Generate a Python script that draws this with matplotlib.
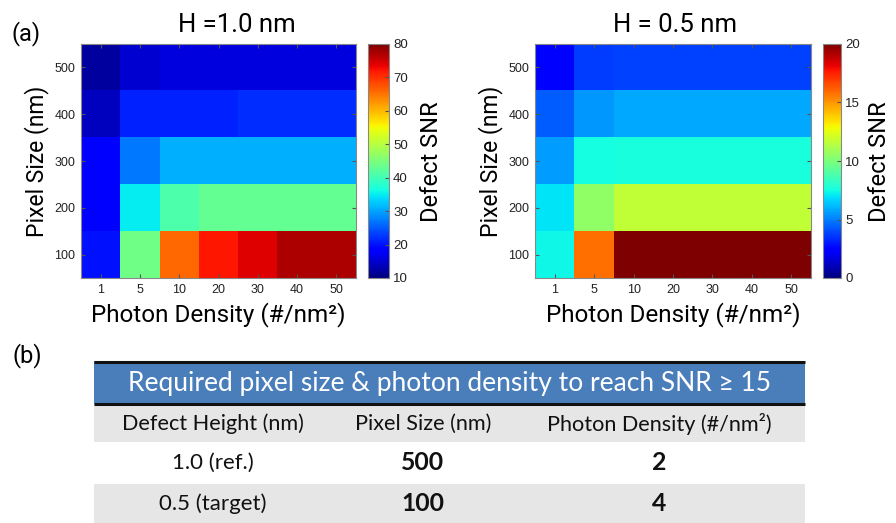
import matplotlib
matplotlib.use("Agg")
import matplotlib.pyplot as plt
from matplotlib.patches import Rectangle
import numpy as np

# Heatmap axes categories
photon_density = ["1", "5", "10", "20", "30", "40", "50"]
pixel_size = ["100", "200", "300", "400", "500"]

# Defect SNR, rows = pixel size 100..500, cols = photon density
snr_h10 = np.array([
    [20, 44, 66, 72, 74, 77, 77],
    [19, 35, 41, 43, 43, 43, 43],
    [18, 27, 31, 31, 31, 31, 31],
    [14, 21, 21, 21, 22, 22, 22],
    [12, 15, 16, 16, 16, 16, 16],
])
snr_h05 = np.array([
    [7.4, 15.8, 20, 20, 20, 20, 20],
    [7.0, 10.5, 11.7, 11.7, 11.7, 11.7, 11.7],
    [5.6, 7.5, 7.6, 7.6, 7.6, 7.6, 7.6],
    [4.3, 5.5, 5.8, 5.8, 5.8, 5.8, 5.8],
    [2.3, 3.7, 3.8, 3.8, 3.8, 3.8, 3.8],
])

# Table (b)
table_title = "Required pixel size & photon density to reach SNR ≥ 15"
table_cols = ["Defect Height (nm)", "Pixel Size (nm)", "Photon Density (#/nm²)"]
defect_height = ["1.0 (ref.)", "0.5 (target)"]
req_pixel = ["500", "100"]
req_photon = ["2", "4"]

W, H = 896, 523
fig = plt.figure(figsize=(W / 100, H / 100), dpi=100)

LABEL_FONT = "Roboto"
TICK_FONT = "Liberation Sans"
TABLE_FONT = ["Lato", "DejaVu Sans"]


def fx(px):
    return px / W


def fy(py):
    return 1 - py / H


def heatmap(left, right, cb_left, cb_right, data, vmin, vmax, cticks):
    ax = fig.add_axes([fx(left), fy(278), fx(right - left), (278 - 44) / H])
    im = ax.imshow(data, cmap="jet", vmin=vmin, vmax=vmax, origin="lower",
                   aspect="auto", interpolation="nearest")
    ax.set_xticks(np.arange(len(photon_density)))
    ax.set_xticklabels(photon_density)
    ax.set_yticks(np.arange(len(pixel_size)))
    ax.set_yticklabels(pixel_size)
    ax.tick_params(direction="in", top=True, right=True, length=3,
                   labelsize=9, color="#555555", pad=4)
    for lab in ax.get_xticklabels() + ax.get_yticklabels():
        lab.set_fontfamily(TICK_FONT)
        lab.set_color("#222222")
    for sp in ax.spines.values():
        sp.set_color("#888888")
    ax.set_xlabel("Photon Density (#/nm²)", fontsize=17.5, family=LABEL_FONT,
                  labelpad=5)
    ax.set_ylabel("Pixel Size (nm)", fontsize=16.5, family=LABEL_FONT, labelpad=4)

    cax = fig.add_axes([fx(cb_left), fy(278), fx(cb_right - cb_left), (278 - 44) / H])
    cb = fig.colorbar(im, cax=cax, ticks=cticks)
    cb.outline.set_edgecolor("#888888")
    cax.tick_params(labelsize=9.5, length=3, direction="in", color="#555555", pad=3)
    for lab in cax.get_yticklabels():
        lab.set_fontfamily(TICK_FONT)
        lab.set_color("#222222")
    return ax, cax


ax1, cax1 = heatmap(81, 356, 368, 389, snr_h10, 10, 80, np.arange(10, 81, 10))
ax2, cax2 = heatmap(535, 811, 823, 841, snr_h05, 0, 20, np.arange(0, 21, 5))

# overlay axes in pixel coordinates for titles, panel labels, table
ov = fig.add_axes([0, 0, 1, 1], zorder=-1)
ov.set_xlim(0, W)
ov.set_ylim(H, 0)
ov.axis("off")

ov.text(237, 25, "H =1.0 nm", fontsize=18.5, family=LABEL_FONT, ha="center", va="center")
ov.text(675, 25, "H = 0.5 nm", fontsize=18.5, family=LABEL_FONT, ha="center", va="center")
ov.text(431, 162, "Defect SNR", fontsize=17, family=LABEL_FONT, ha="center",
        va="center", rotation=90)
ov.text(879, 162, "Defect SNR", fontsize=17, family=LABEL_FONT, ha="center",
        va="center", rotation=90)
ov.text(26, 34, "(a)", fontsize=17, family=LABEL_FONT, ha="center", va="center")
ov.text(27, 356, "(b)", fontsize=17, family=LABEL_FONT, ha="center", va="center")

# table
tl, tr = 94, 805
ov.add_patch(Rectangle((tl, 361), tr - tl, 43, facecolor="#4a7ebb", edgecolor="none"))
ov.plot([tl, tr], [361.5, 361.5], color="#111111", lw=2.2, solid_capstyle="butt")
ov.plot([tl, tr], [404, 404], color="#111111", lw=2.2, solid_capstyle="butt")
ov.text((tl + tr) / 2, 383, table_title, fontsize=19, family=TABLE_FONT,
        color="white", ha="center", va="center")

col_x = [213, 423, 659]
row_bounds = [(405, 442), (442, 484), (484, 523)]
row_fill = ["#e6e6e6", "white", "#e6e6e6"]
for (y0, y1), fc in zip(row_bounds, row_fill):
    ov.add_patch(Rectangle((tl, y0), tr - tl, y1 - y0, facecolor=fc, edgecolor="none"))

for x, t in zip(col_x, table_cols):
    ov.text(x, 424, t, fontsize=15.6, family=TABLE_FONT, color="#111111",
            ha="center", va="center")

for i in range(len(defect_height)):
    yc = (row_bounds[i + 1][0] + row_bounds[i + 1][1]) / 2
    ov.text(col_x[0], yc, defect_height[i], fontsize=16, family=TABLE_FONT,
            color="#111111", ha="center", va="center")
    ov.text(col_x[1], yc, req_pixel[i], fontsize=17.8, family=TABLE_FONT,
            weight="bold", color="#111111", ha="center", va="center")
    ov.text(col_x[2], yc, req_photon[i], fontsize=17.8, family=TABLE_FONT,
            weight="bold", color="#111111", ha="center", va="center")

fig.savefig("out.png", dpi=100)
